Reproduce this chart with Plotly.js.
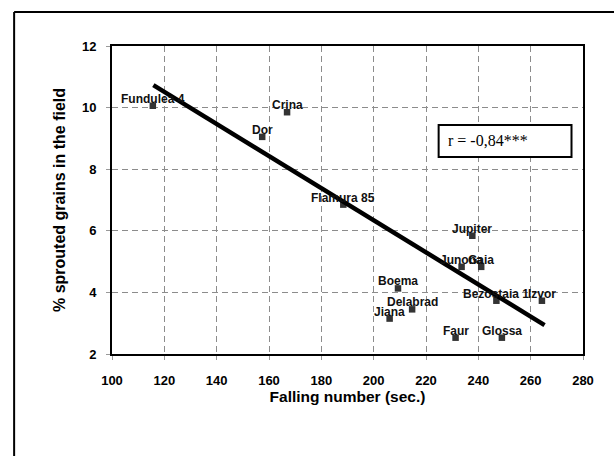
<!DOCTYPE html>
<html>
<head>
<meta charset="utf-8">
<script src="https://cdn.plot.ly/plotly-3.0.1.min.js"></script>
<style>html,body{margin:0;padding:0;background:#fff;}#chart{width:614px;height:456px;}</style>
</head>
<body>
<div id="chart"></div>
<script>
// Data
const varieties = ["Fundulea 4","Crina","Dor","Flamura 85","Jupiter","Junona","Gaia","Boema","Bezostaia 1","Izvor","Delabrad","Jiana","Faur","Glossa"];
const fallingNumber = [115.6, 166.9, 157.4, 188.4, 237.7, 233.6, 241.1, 209.3, 246.9, 264.3, 214.7, 206.1, 231.3, 249.0];
const sproutedPct = [10.06, 9.85, 9.05, 6.85, 5.84, 4.83, 4.83, 4.13, 3.73, 3.73, 3.45, 3.15, 2.53, 2.53];
const trendX = [115.8, 265.3];
const trendY = [10.73, 2.94];
const xTicks = [100,120,140,160,180,200,220,240,260,280];
const yTicks = [2,4,6,8,10,12];
const corrText = "r = -0,84***";

const sans = "Liberation Sans, Arial, sans-serif";

const traces = [
  {
    x: fallingNumber, y: sproutedPct, type: "scatter", mode: "markers",
    marker: {symbol: "square", size: 6.5, color: "#333333"},
    hoverinfo: "skip", showlegend: false
  },
  {
    x: trendX, y: trendY, type: "scatter", mode: "lines",
    line: {color: "#000000", width: 4.5},
    hoverinfo: "skip", showlegend: false
  }
];

const labelAnnots = varieties.map((name, i) => ({
  x: fallingNumber[i], y: sproutedPct[i], xref: "x", yref: "y",
  text: name, showarrow: false, xanchor: "center", yanchor: "middle", yshift: 7,
  font: {family: sans, size: 12, color: "#111111", weight: 700}
}));

const axisCommon = {
  showline: true, linecolor: "#000000", linewidth: 2, mirror: true,
  showgrid: true, gridcolor: "#8c8c8c", gridwidth: 1, griddash: "6px,4px",
  ticks: "outside", ticklen: 4, tickcolor: "#999999", tickwidth: 1,
  zeroline: false, automargin: false,
  tickfont: {family: sans, size: 13, color: "#000000", weight: 700}
};

const layout = {
  width: 614, height: 456,
  margin: {l: 112, r: 31, t: 46, b: 102},
  paper_bgcolor: "#ffffff", plot_bgcolor: "#ffffff",
  showlegend: false,
  xaxis: Object.assign({}, axisCommon, {
    range: [100, 280], tickvals: xTicks, ticktext: xTicks.map(String),
    ticklabelstandoff: 9,
    title: {text: "Falling number (sec.)", standoff: 4,
            font: {family: sans, size: 15.5, color: "#000000", weight: 700}}
  }),
  yaxis: Object.assign({}, axisCommon, {
    range: [2, 12], tickvals: yTicks, ticktext: yTicks.map(String),
    ticklabelstandoff: 7,
    title: {text: "% sprouted grains in the field", standoff: 12,
            font: {family: sans, size: 16, color: "#000000", weight: 700}}
  }),
  shapes: [
    {type: "line", xref: "paper", yref: "paper", x0: -0.2078, x1: -0.2078, y0: 1.1104, y1: -0.40,
     line: {color: "#000000", width: 2}},
    {type: "line", xref: "paper", yref: "paper", x0: -0.2078, x1: 1.10, y0: 1.1104, y1: 1.1104,
     line: {color: "#000000", width: 2}},
    {type: "rect", xref: "paper", yref: "paper", x0: 0.6935, x1: 0.9756, y0: 0.6396, y1: 0.7435,
     line: {color: "#000000", width: 2}, fillcolor: "#ffffff", layer: "above"}
  ],
  annotations: labelAnnots.concat([
    {xref: "paper", yref: "paper", x: 0.7084, y: 0.6916, xanchor: "left", yanchor: "middle",
     text: corrText, showarrow: false,
     font: {family: "Liberation Serif, Times New Roman, serif", size: 16, color: "#000000"}}
  ])
};

Plotly.newPlot("chart", traces, layout, {staticPlot: true, displayModeBar: false});
</script>
</body>
</html>
